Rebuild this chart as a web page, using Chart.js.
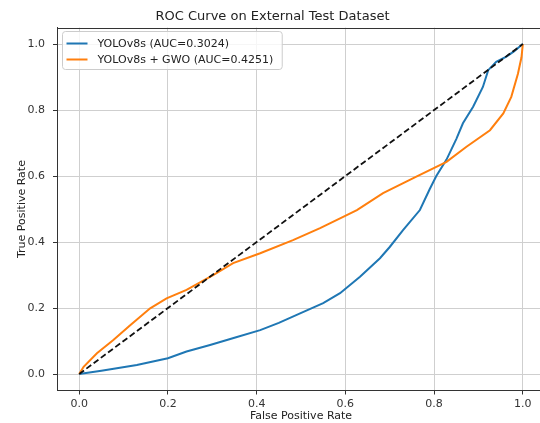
<!DOCTYPE html>
<html>
<head>
<meta charset="utf-8">
<script src="https://cdn.jsdelivr.net/npm/chart.js@4"></script>
<style>
  html, body { margin: 0; padding: 0; background: #fff; overflow: hidden; }
  #wrap { position: absolute; left: 0; top: 0; width: 550px; height: 423px; }
</style>
</head>
<body>
<div id="wrap"><canvas id="roc"></canvas></div>
<script>
const tickValues = [0, 0.2, 0.4, 0.6, 0.8, 1.0];

const yoloFpr = [0, 0.05, 0.13, 0.2, 0.242, 0.295, 0.35, 0.408, 0.45, 0.498, 0.55, 0.588, 0.633, 0.678, 0.70, 0.73, 0.768, 0.79, 0.805, 0.828, 0.85, 0.865, 0.888, 0.91, 0.922, 0.94, 0.963, 0.98, 1.0];
const yoloTpr = [0, 0.01, 0.027, 0.048, 0.068, 0.088, 0.11, 0.133, 0.155, 0.184, 0.215, 0.245, 0.295, 0.351, 0.385, 0.436, 0.497, 0.56, 0.6, 0.65, 0.712, 0.76, 0.81, 0.87, 0.921, 0.946, 0.962, 0.978, 1.0];

const gwoFpr = [0, 0.01, 0.04, 0.077, 0.115, 0.16, 0.197, 0.242, 0.302, 0.347, 0.408, 0.482, 0.543, 0.595, 0.626, 0.685, 0.76, 0.828, 0.873, 0.926, 0.956, 0.974, 0.989, 0.997, 1.0];
const gwoTpr = [0, 0.022, 0.063, 0.103, 0.148, 0.199, 0.229, 0.255, 0.30, 0.336, 0.366, 0.406, 0.442, 0.476, 0.497, 0.548, 0.598, 0.643, 0.689, 0.739, 0.79, 0.84, 0.91, 0.96, 1.0];

const chanceLine = [0, 1];

const toPoints = (xs, ys) => xs.map((x, i) => ({ x: x, y: ys[i] }));

const FONT = 'DejaVu Sans';

// legend box drawn inside the plot, matplotlib style
const innerLegend = {
  id: 'innerLegend',
  afterDraw(chart) {
    const ctx = chart.ctx;
    const items = chart.data.datasets.filter(d => !d.hideInLegend);
    ctx.save();
    ctx.font = '11px "' + FONT + '"';
    let w = 0;
    items.forEach(d => { w = Math.max(w, ctx.measureText(d.label).width); });
    const x0 = 62.5, y0 = 31.5, bw = w + 44, bh = 38;
    ctx.fillStyle = 'rgba(255,255,255,0.8)';
    ctx.strokeStyle = '#cccccc';
    ctx.lineWidth = 1;
    ctx.beginPath();
    ctx.roundRect(x0, y0, bw, bh, 3);
    ctx.fill();
    ctx.stroke();
    items.forEach((d, i) => {
      const yy = y0 + 12 + i * 16;
      ctx.strokeStyle = d.borderColor;
      ctx.lineWidth = 2;
      ctx.beginPath();
      ctx.moveTo(x0 + 4, yy);
      ctx.lineTo(x0 + 25, yy);
      ctx.stroke();
      ctx.fillStyle = '#222';
      ctx.textBaseline = 'middle';
      ctx.fillText(d.label, x0 + 35, yy + 0.5);
    });
    ctx.restore();
  }
};

// top spine
const topSpine = {
  id: 'topSpine',
  afterDraw(chart) {
    const a = chart.chartArea, ctx = chart.ctx;
    ctx.save();
    ctx.strokeStyle = '#333';
    ctx.lineWidth = 1;
    ctx.beginPath();
    ctx.moveTo(a.left, Math.round(a.top) + 0.5);
    ctx.lineTo(a.right, Math.round(a.top) + 0.5);
    ctx.stroke();
    ctx.restore();
  }
};

const axisBase = {
  type: 'linear',
  min: -0.05,
  max: 1.05,
  afterBuildTicks(scale) { scale.ticks = tickValues.map(v => ({ value: v })); },
  grid: { color: '#cfcfcf', lineWidth: 1, tickLength: 4, tickColor: '#333' },
  border: { color: '#333', width: 1 }
};

new Chart(document.getElementById('roc'), {
  type: 'line',
  data: {
    datasets: [
      {
        label: 'YOLOv8s (AUC=0.3024)',
        data: toPoints(yoloFpr, yoloTpr),
        borderColor: '#1f77b4',
        borderWidth: 2,
        pointRadius: 0,
        order: 2
      },
      {
        label: 'YOLOv8s + GWO (AUC=0.4251)',
        data: toPoints(gwoFpr, gwoTpr),
        borderColor: '#ff7f0e',
        borderWidth: 2,
        pointRadius: 0,
        order: 1
      },
      {
        label: 'chance',
        hideInLegend: true,
        data: toPoints(chanceLine, chanceLine),
        borderColor: '#111',
        borderWidth: 1.8,
        borderDash: [6, 3],
        pointRadius: 0,
        order: 0
      }
    ]
  },
  options: {
    responsive: true,
    maintainAspectRatio: false,
    animation: false,
    layout: { padding: { left: 0, right: 5, top: 0, bottom: 0 } },
    plugins: {
      legend: { display: false },
      tooltip: { enabled: false },
      title: {
        display: true,
        text: 'ROC Curve on External Test Dataset',
        color: '#222',
        font: { family: FONT, size: 13, weight: 'normal' },
        padding: { top: 9, bottom: 3 }
      }
    },
    scales: {
      x: Object.assign({}, axisBase, {
        afterFit(scale) { scale.height = 32.5; },
        ticks: {
          color: '#333', padding: 3,
          font: { family: FONT, size: 11 },
          callback: v => v.toFixed(1)
        },
        title: {
          display: true, text: 'False Positive Rate', color: '#222',
          font: { family: FONT, size: 11 }, padding: { top: 0, bottom: 0 }
        }
      }),
      y: Object.assign({}, axisBase, {
        afterFit(scale) { scale.width = 57; },
        ticks: {
          color: '#333', padding: 8,
          font: { family: FONT, size: 11 },
          callback: v => v.toFixed(1)
        },
        title: {
          display: true, text: 'True Positive Rate', color: '#222',
          font: { family: FONT, size: 11 }, padding: { top: 16, bottom: 0 }
        }
      })
    }
  },
  plugins: [innerLegend, topSpine]
});
</script>
</body>
</html>
